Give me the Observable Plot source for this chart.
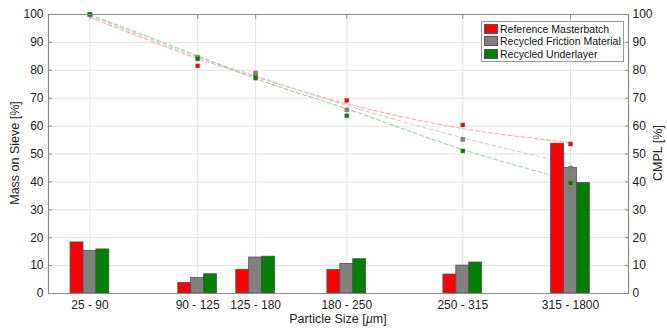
<!DOCTYPE html>
<html>
<head>
<meta charset="utf-8">
<script src="https://cdn.jsdelivr.net/npm/d3@7"></script>
<script src="https://cdn.jsdelivr.net/npm/@observablehq/plot@0.6"></script>
<style>
  body { margin: 0; background: #fff; font-family: "Liberation Sans", Arial, sans-serif; }
  #wrap { position: relative; width: 667px; height: 329px; }
  #legend { position: absolute; left: 481px; top: 21px; width: 139px; padding: 1px 0 1px 2px; border: 1px solid #9a9a9a; background: #fff; font-size: 10.5px; color: #111; white-space: nowrap; }
  #legend .row { display: flex; align-items: center; height: 12.3px; }
  #legend .sw { width: 14px; height: 10px; border: 1px solid #555; margin-right: 2px; box-sizing: border-box; flex: none; }
</style>
</head>
<body>
<div id="wrap"><div id="chart"></div><div id="legend"></div></div>
<script>
const ranges = ["25 - 90", "90 - 125", "125 - 180", "180 - 250", "250 - 315", "315 - 1800"];
const sieveLow = [25, 90, 125, 180, 250, 315];
const series = ["Reference Masterbatch", "Recycled Friction Material", "Recycled Underlayer"];
const colors = ["#ff0000", "#808080", "#008000"];
const lineColors = ["#ffa8a8", "#d2d2d2", "#9ed49e"];
const massRef = [18.3, 3.8, 8.5, 8.4, 6.8, 53.7];
const massFric = [15.3, 5.6, 12.9, 10.6, 10.0, 45.0];
const massUnder = [15.8, 6.9, 13.2, 12.3, 11.1, 39.6];
const cmplRef = [100, 81.6, 78.0, 69.2, 60.4, 53.6];
const cmplFric = [100, 84.7, 79.0, 65.8, 55.2, 45.0];
const cmplUnder = [100, 84.1, 77.2, 63.7, 51.1, 39.6];
const fitRef = [99.0, 84.2, 77.6, 68.0, 59.1, 54.1];
const fitFric = [99.6, 84.8, 78.0, 67.4, 55.8, 46.5];
const fitUnder = [100, 85.2, 77.0, 66.2, 51.6, 40.5];

const mass = [massRef, massFric, massUnder];
const cmpl = [cmplRef, cmplFric, cmplUnder];
const fits = [fitRef, fitFric, fitUnder];
const barW = 7.8; // bar width in x units

const bars = [], pts = [], fitRows = [];
series.forEach((s, si) => {
  sieveLow.forEach((lo, i) => {
    bars.push({ s, x1: lo + (si - 1.5) * barW, x2: lo + (si - 0.5) * barW, y: mass[si][i] });
    pts.push({ s, x: lo, y: cmpl[si][i] });
    fitRows.push({ s, x: lo, y: fits[si][i] });
  });
});
const colorOf = s => colors[series.indexOf(s)];
const lineColorOf = s => lineColors[series.indexOf(s)];
const labelOf = d3.scaleOrdinal(sieveLow, ranges);
const axisCol = "#8a8a8a";

const chart = Plot.plot({
  width: 667, height: 329,
  marginLeft: 48, marginRight: 39, marginTop: 14, marginBottom: 36,
  style: { fontFamily: "Liberation Sans, Arial, sans-serif", fontSize: "12px", color: "#222", background: "#fff" },
  x: { domain: [0, 350] },
  y: { domain: [0, 100] },
  marks: [
    Plot.gridX(sieveLow, { stroke: "#e3e3e3", strokeOpacity: 1 }),
    Plot.gridY(d3.range(10, 100, 10), { stroke: "#e3e3e3", strokeOpacity: 1 }),
    ...series.map(s => Plot.line(fitRows.filter(d => d.s === s), {
      x: "x", y: "y", stroke: lineColorOf(s), strokeWidth: 1.1, strokeDasharray: "4,2.5", curve: "catmull-rom"
    })),
    Plot.rectY(bars, { x1: "x1", x2: "x2", y: "y", fill: d => colorOf(d.s), stroke: "#505050", strokeWidth: 0.8 }),
    Plot.dot(pts, { x: "x", y: "y", symbol: "square", r: 2.3, fill: d => colorOf(d.s), stroke: "#777", strokeWidth: 0.4 }),
    Plot.ruleY([0, 100], { stroke: axisCol, strokeWidth: 1.2 }),
    Plot.ruleX([0, 350], { stroke: axisCol, strokeWidth: 1.2 }),
    Plot.axisX({ ticks: sieveLow, tickFormat: d => labelOf(d), tickSize: -4, tickPadding: 11, stroke: axisCol,
      label: null, fontSize: "12px" }),
    Plot.axisX({ anchor: "top", ticks: sieveLow, tickFormat: () => "", tickSize: -4, stroke: axisCol, label: null }),
    Plot.axisY({ anchor: "left", ticks: d3.range(0, 101, 10), tickSize: -4, tickPadding: 9, stroke: axisCol, label: null }),
    Plot.axisY({ anchor: "right", ticks: d3.range(0, 101, 10), tickSize: -4, tickPadding: 8, stroke: axisCol, label: null })
  ]
});
document.getElementById("chart").appendChild(chart);

// axis titles as SVG text
const svg = d3.select(chart);
svg.append("text").attr("transform", "translate(19,153) rotate(-90)").attr("text-anchor", "middle")
  .attr("font-size", 12.5).attr("fill", "#222").text("Mass on Sieve [%]");
svg.append("text").attr("transform", "translate(662,153) rotate(-90)").attr("text-anchor", "middle")
  .attr("font-size", 12.5).attr("fill", "#222").text("CMPL [%]");
const xt = svg.append("text").attr("x", 338).attr("y", 323).attr("text-anchor", "middle")
  .attr("font-size", 12.5).attr("fill", "#222");
xt.append("tspan").text("Particle Size [");
xt.append("tspan").attr("font-style", "italic").text("µ");
xt.append("tspan").text("m]");

// legend
const lg = d3.select("#legend");
series.forEach((s, i) => {
  const r = lg.append("div").attr("class", "row");
  r.append("div").attr("class", "sw").style("background", colors[i]);
  r.append("span").text(s);
});
</script>
</body>
</html>
